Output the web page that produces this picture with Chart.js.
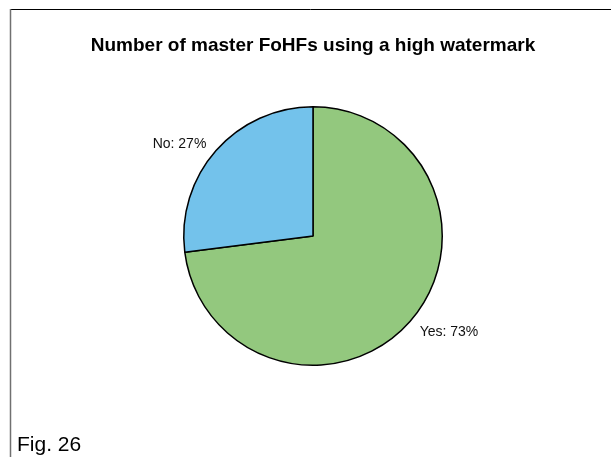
<!DOCTYPE html>
<html>
<head>
<meta charset="utf-8">
<script src="https://cdn.jsdelivr.net/npm/chart.js@4"></script>
<style>
  html, body { margin: 0; padding: 0; background: #fff; }
  #wrap { width: 611px; height: 457px; position: relative; }
</style>
</head>
<body>
<div id="wrap"><canvas id="pie" width="611" height="457"></canvas></div>
<script>
// --- DATA ---
const categories = ["Yes", "No"];
const shares = [73, 27];
const sliceColors = ["#93c87e", "#73c2eb"];
const chartTitle = "Number of master FoHFs using a high watermark";
const figLabel = "Fig. 26";

// frame, title and the caption underneath
const framePlugin = {
    id: "frame",
    beforeDraw(chart) {
        const ctx = chart.ctx;
        ctx.save();
        ctx.fillStyle = "#fff";
        ctx.fillRect(0, 0, chart.width, chart.height);
        ctx.strokeStyle = "#000";
        ctx.lineWidth = 1;
        ctx.beginPath();
        ctx.moveTo(10, 9.5);
        ctx.lineTo(chart.width, 9.5);
        ctx.stroke();
        ctx.strokeStyle = "#707070";
        ctx.lineWidth = 1.5;
        ctx.beginPath();
        ctx.moveTo(10.5, 9);
        ctx.lineTo(10.5, chart.height);
        ctx.stroke();

        ctx.fillStyle = "#000";
        ctx.font = "bold 19px 'Liberation Sans', Arial, sans-serif";
        ctx.textAlign = "center";
        ctx.textBaseline = "middle";
        ctx.fillText(chartTitle, 313, 46);

        ctx.font = "21px 'Liberation Sans', Arial, sans-serif";
        ctx.textAlign = "left";
        ctx.textBaseline = "alphabetic";
        ctx.fillText(figLabel, 17, 451);
        ctx.restore();
    }
};

// "Category: NN%" labels just outside each slice
const sliceLabels = {
    id: "sliceLabels",
    afterDatasetsDraw(chart) {
        const ctx = chart.ctx;
        const meta = chart.getDatasetMeta(0);
        ctx.save();
        ctx.font = "14px 'Liberation Sans', Arial, sans-serif";
        ctx.fillStyle = "#111";
        ctx.textBaseline = "middle";
        meta.data.forEach((arc, i) => {
            const p = arc.getProps(["x", "y", "startAngle", "endAngle", "outerRadius"], true);
            const mid = (p.startAngle + p.endAngle) / 2;
            const r = p.outerRadius * 1.1;
            const lx = p.x + Math.cos(mid) * r;
            const ly = p.y + Math.sin(mid) * r;
            ctx.textAlign = Math.cos(mid) >= 0 ? "left" : "right";
            ctx.fillText(categories[i] + ": " + shares[i] + "%", lx, ly + 2);
        });
        ctx.restore();
    }
};

new Chart(document.getElementById("pie"), {
    type: "pie",
    data: {
        labels: categories,
        datasets: [{
            data: shares,
            backgroundColor: sliceColors,
            borderColor: "#000",
            borderWidth: 1.5
        }]
    },
    options: {
        responsive: false,
        animation: false,
        layout: { padding: { left: 183, right: 168, top: 106, bottom: 91 } },
        plugins: {
            legend: { display: false },
            tooltip: { enabled: false }
        }
    },
    plugins: [framePlugin, sliceLabels]
});
</script>
</body>
</html>
